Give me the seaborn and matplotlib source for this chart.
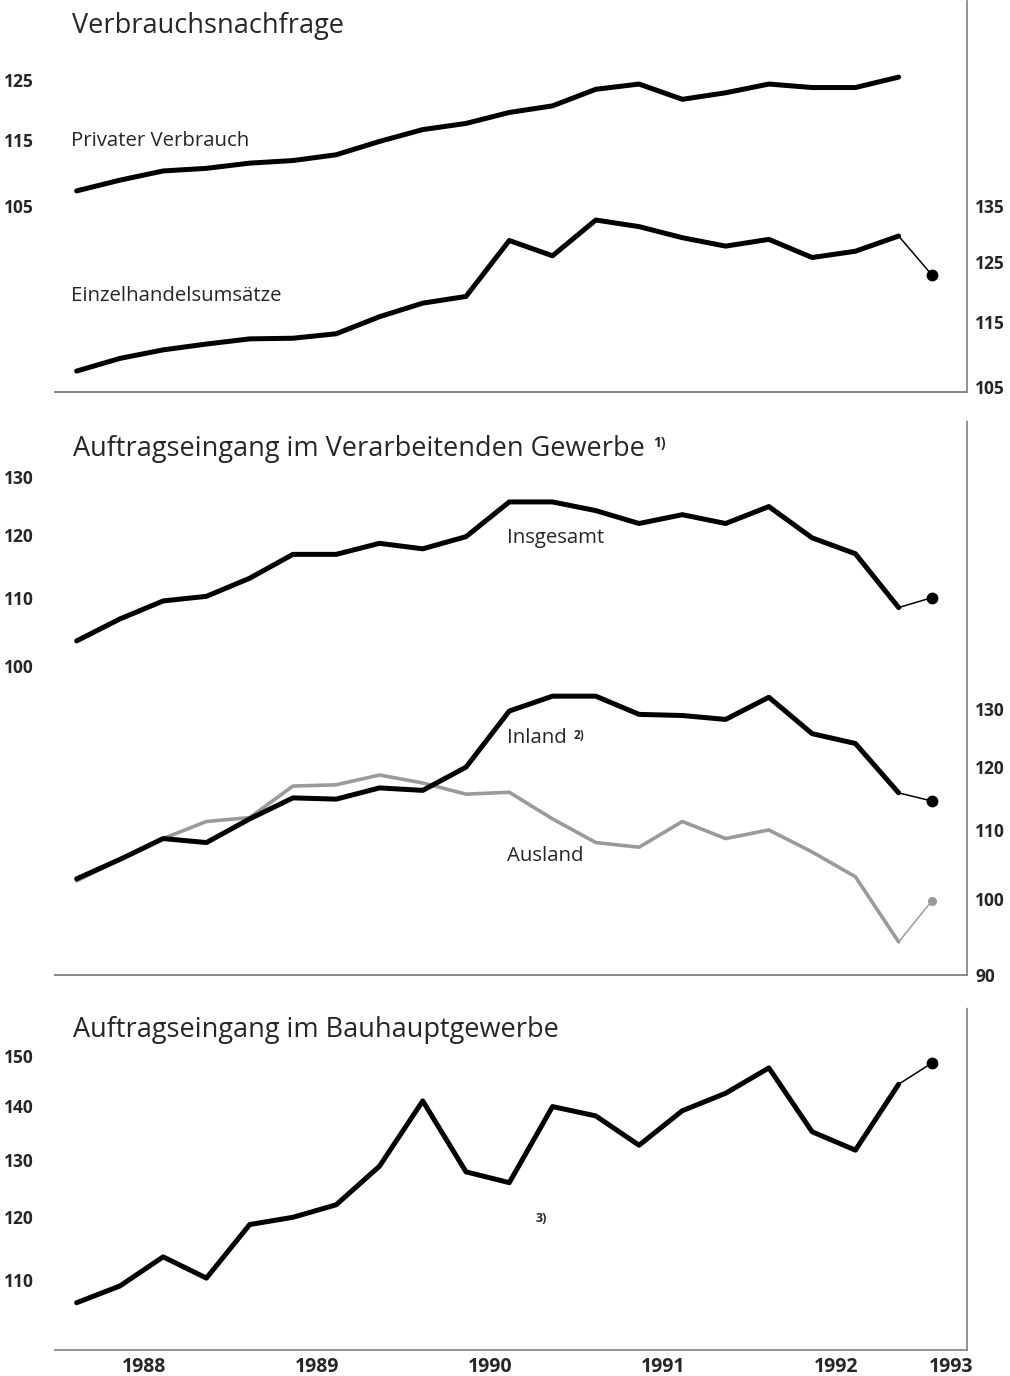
import numpy as np
import pandas as pd
import matplotlib
matplotlib.use("Agg")
import matplotlib.pyplot as plt
from matplotlib.ticker import FixedLocator, FixedFormatter, NullLocator
import seaborn as sns

# ---------------- data (quarterly, 1988 Q1 .. 1992 Q4, index values) ----------------
years = [1988, 1989, 1990, 1991, 1992]
quarters = [1, 2, 3, 4]

privat = [107.2, 108.8, 110.2, 110.6, 111.4, 111.8, 112.7, 114.8, 116.7, 117.7,
          119.5, 120.6, 123.4, 124.3, 121.7, 122.8, 124.3, 123.7, 123.7, 125.5]
einzel = [107.4, 109.3, 110.6, 111.5, 112.3, 112.4, 113.1, 115.8, 118.0, 119.1,
          128.7, 126.0, 132.4, 131.2, 129.2, 127.7, 128.9, 125.7, 126.8, 129.5]
einzel_latest = 122.7

insgesamt = [103.6, 106.8, 109.5, 110.2, 113.0, 116.8, 116.8, 118.6, 117.7, 119.7,
             125.6, 125.6, 124.1, 121.9, 123.4, 121.9, 124.8, 119.5, 116.9, 108.5]
insgesamt_latest = 110.0
inland = [102.8, 105.6, 108.7, 108.1, 111.7, 115.0, 114.8, 116.6, 116.2, 120.0,
          129.7, 132.4, 132.4, 129.1, 128.9, 128.2, 132.2, 125.7, 124.0, 115.8]
inland_latest = 114.5
ausland = [102.5, 105.6, 108.7, 111.3, 111.9, 116.9, 117.1, 118.7, 117.4, 115.6,
           115.9, 111.7, 108.1, 107.4, 111.3, 108.7, 110.0, 106.7, 103.1, 94.2]
ausland_latest = 99.7

bau = [106.6, 109.1, 113.6, 110.3, 118.8, 120.0, 122.1, 128.8, 141.0, 127.8,
       125.9, 139.9, 138.1, 132.6, 139.1, 142.5, 147.6, 135.1, 131.7, 144.3]
bau_latest = 148.6

year_labels = ["1988", "1989", "1990", "1991", "1992", "1993"]

ticks_p1_left = [105, 115, 125]
ticks_p1_right = [105, 115, 125, 135]
ticks_p2_left = [100, 110, 120, 130]
ticks_p2_right = [90, 100, 110, 120, 130]
ticks_p3_left = [110, 120, 130, 140, 150]

# ---------------- helpers ----------------
xq = np.array([y + (q - 0.5) / 4 for y in years for q in quarters])
x_latest = 1993.067
XLIM = (1988.0, 1993.27)

sns.set_theme(style="white")
plt.rcParams["font.family"] = ["Open Sans", "DejaVu Sans"]

W, H = 1010, 1376
fig = plt.figure(figsize=(W / 100, H / 100), dpi=100)


def fx(px):
    return px / W


def fy(py):
    return 1 - py / H


def make_axes(top, bottom):
    return fig.add_axes([fx(55), fy(bottom), (967 - 55) / W, (bottom - top) / H])


DOT = (0, (1.5, 1))
SPINE_COL = "#8a8a8a"
TICK_FS = 12.5


def style_ax(ax, right_spine=True):
    for s in ["left", "top"]:
        ax.spines[s].set_visible(False)
    ax.spines["bottom"].set_linestyle(DOT)
    ax.spines["bottom"].set_color(SPINE_COL)
    ax.spines["bottom"].set_linewidth(1.3)
    if right_spine:
        ax.spines["right"].set_visible(True)
        ax.spines["right"].set_linestyle(DOT)
        ax.spines["right"].set_color(SPINE_COL)
        ax.spines["right"].set_linewidth(1.3)
    else:
        ax.spines["right"].set_visible(False)
    ax.set_xlim(*XLIM)
    ax.grid(False)
    ax.set_facecolor("none")
    ax.tick_params(length=0)


def set_log_ticks(ax, ticks, lim, side):
    ax.set_yscale("log")
    ax.set_ylim(*lim)
    ax.yaxis.set_major_locator(FixedLocator(ticks))
    ax.yaxis.set_major_formatter(FixedFormatter([str(t) for t in ticks]))
    ax.yaxis.set_minor_locator(NullLocator())
    if side == "left":
        ax.tick_params(axis="y", pad=15, labelsize=TICK_FS)
    else:
        ax.tick_params(axis="y", pad=6, labelsize=TICK_FS)
    for lbl in ax.get_yticklabels():
        lbl.set_fontweight("bold")
    ax.set_ylabel("")


def series(ax, values, latest=None, color="black", lw=3.6, msize=8.5):
    df = pd.DataFrame({"x": xq, "v": values})
    sns.lineplot(data=df, x="x", y="v", ax=ax, color=color, lw=lw,
                 solid_joinstyle="round", solid_capstyle="round", legend=False)
    if latest is not None:
        df2 = pd.DataFrame({"x": [xq[-1], x_latest], "v": [values[-1], latest]})
        sns.lineplot(data=df2, x="x", y="v", ax=ax, color=color, lw=1.1, legend=False)
        df3 = pd.DataFrame({"x": [x_latest], "v": [latest]})
        sns.scatterplot(data=df3, x="x", y="v", ax=ax, color=color, s=msize ** 2,
                        edgecolor=color, linewidth=0, legend=False, zorder=5)
    ax.set_xlabel("")
    ax.set_ylabel("")


# ---------------- panel 1 ----------------
ax1 = make_axes(0, 392)
ax1r = ax1.twinx()
series(ax1, privat)
series(ax1r, einzel, einzel_latest)
set_log_ticks(ax1, ticks_p1_left, (81.13, 139.65), "left")
set_log_ticks(ax1r, ticks_p1_right, (104.33, 179.6), "right")
style_ax(ax1, right_spine=False)
style_ax(ax1r, right_spine=True)
ax1.set_xticks([])
ax1r.set_xticks([])

# ---------------- panel 2 ----------------
ax2 = make_axes(420, 975)
ax2r = ax2.twinx()
series(ax2, insgesamt, insgesamt_latest)
series(ax2r, ausland, ausland_latest, color="#9a9a9a", lw=2.6, msize=6.5)
series(ax2r, inland, inland_latest)
set_log_ticks(ax2, ticks_p2_left, (65.21, 140.7), "left")
set_log_ticks(ax2r, ticks_p2_right, (89.98, 194.1), "right")
style_ax(ax2, right_spine=False)
style_ax(ax2r, right_spine=True)
ax2.set_xticks([])
ax2r.set_xticks([])

# ---------------- panel 3 ----------------
ax3 = make_axes(1007, 1350)
series(ax3, bau, bau_latest)
set_log_ticks(ax3, ticks_p3_left, (99.84, 160.6), "left")
style_ax(ax3, right_spine=True)
year_pos = [y + 0.513 for y in years] + [1993.177]
ax3.set_xticks(year_pos)
ax3.set_xticklabels(year_labels, fontsize=14, fontweight="bold")
ax3.tick_params(axis="x", pad=5)

# ---------------- texts ----------------
TITLE_FS = 19.5
LABEL_FS = 14.7
fig.text(fx(72), fy(26), "Verbrauchsnachfrage", fontsize=TITLE_FS, va="center", ha="left")
fig.text(fx(71), fy(141), "Privater Verbrauch", fontsize=LABEL_FS, va="center", ha="left")
fig.text(fx(71), fy(296), "Einzelhandelsumsätze", fontsize=LABEL_FS, va="center", ha="left")

t2 = fig.text(fx(73), fy(449), "Auftragseingang im Verarbeitenden Gewerbe",
              fontsize=TITLE_FS, va="center", ha="left")
ax2.annotate("1)", xy=(1, 0.95), xycoords=t2, xytext=(6, 0), textcoords="offset points",
             fontsize=10, fontweight="bold", va="top", ha="left", annotation_clip=False)

fig.text(fx(507), fy(538), "Insgesamt", fontsize=LABEL_FS, va="center", ha="left")
t_in = fig.text(fx(507), fy(738), "Inland", fontsize=LABEL_FS, va="center", ha="left")
ax2.annotate("2)", xy=(1, 0.95), xycoords=t_in, xytext=(5, 0), textcoords="offset points",
             fontsize=8.5, fontweight="bold", va="top", ha="left", annotation_clip=False)
fig.text(fx(507), fy(856), "Ausland", fontsize=LABEL_FS, va="center", ha="left")

fig.text(fx(73), fy(1030), "Auftragseingang im Bauhauptgewerbe", fontsize=TITLE_FS,
         va="center", ha="left")
fig.text(fx(536), fy(1218), "3)", fontsize=9, fontweight="bold", va="center", ha="left")

fig.savefig("out.png", dpi=100, facecolor="white")
